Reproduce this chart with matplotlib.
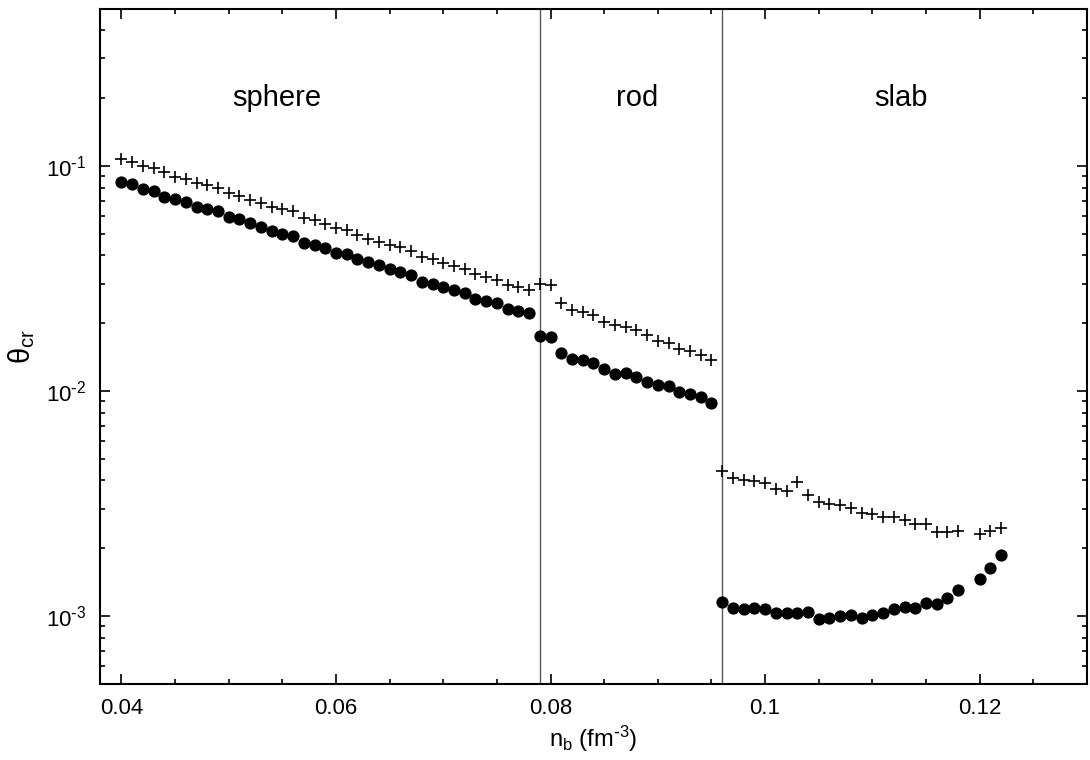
import matplotlib
matplotlib.use('Agg')
import matplotlib.pyplot as plt
import numpy as np
from matplotlib.ticker import LogLocator, FuncFormatter, MultipleLocator

plt.rcParams['font.family'] = ['Liberation Sans', 'DejaVu Sans']
plt.rcParams['mathtext.default'] = 'regular'
plt.rcParams['axes.unicode_minus'] = False

# baryon density n_b (fm^-3) for each pasta phase
nb_sphere = [0.040, 0.041, 0.042, 0.043, 0.044, 0.045, 0.046, 0.047, 0.048, 0.049,
             0.050, 0.051, 0.052, 0.053, 0.054, 0.055, 0.056, 0.057, 0.058, 0.059,
             0.060, 0.061, 0.062, 0.063, 0.064, 0.065, 0.066, 0.067, 0.068, 0.069,
             0.070, 0.071, 0.072, 0.073, 0.074, 0.075, 0.076, 0.077, 0.078]
nb_rod = [0.079, 0.080, 0.081, 0.082, 0.083, 0.084, 0.085, 0.086, 0.087, 0.088,
          0.089, 0.090, 0.091, 0.092, 0.093, 0.094, 0.095]
nb_slab = [0.096, 0.097, 0.098, 0.099, 0.100, 0.101, 0.102, 0.103, 0.104, 0.105,
           0.106, 0.107, 0.108, 0.109, 0.110, 0.111, 0.112, 0.113, 0.114, 0.115,
           0.116, 0.117, 0.118, 0.120, 0.121, 0.122]

# theta_cr, crosses (upper series)
cross_sphere = [0.1068, 0.1042, 0.0997, 0.0980, 0.0935, 0.0894, 0.0876, 0.0840, 0.0818, 0.0796,
                0.0756, 0.0733, 0.0704, 0.0685, 0.0657, 0.0640, 0.0627, 0.0586, 0.0572, 0.0551,
                0.0530, 0.0518, 0.0492, 0.0471, 0.0459, 0.0447, 0.0434, 0.0419, 0.0394, 0.0386,
                0.0371, 0.0359, 0.0348, 0.0330, 0.0321, 0.0310, 0.0296, 0.0290, 0.0280]
cross_rod = [0.0298, 0.0294, 0.0246, 0.0228, 0.0225, 0.0217, 0.0203, 0.0196, 0.0193, 0.0187,
             0.0177, 0.0167, 0.0163, 0.0154, 0.0151, 0.0144, 0.0137]
cross_slab = [0.00441, 0.00412, 0.00401, 0.00398, 0.00388, 0.00365, 0.00358, 0.00394, 0.00344, 0.00321,
              0.00314, 0.00310, 0.00302, 0.00287, 0.00285, 0.00275, 0.00274, 0.00268, 0.00257, 0.00257,
              0.00236, 0.00235, 0.00239, 0.00231, 0.00239, 0.00245]

# theta_cr, filled circles (lower series)
dot_sphere = [0.0849, 0.0829, 0.0786, 0.0774, 0.0728, 0.0709, 0.0690, 0.0657, 0.0642, 0.0627,
              0.0592, 0.0578, 0.0555, 0.0534, 0.0514, 0.0497, 0.0486, 0.0455, 0.0443, 0.0432,
              0.0411, 0.0405, 0.0386, 0.0373, 0.0362, 0.0348, 0.0337, 0.0327, 0.0306, 0.0300,
              0.0290, 0.0281, 0.0272, 0.0256, 0.0250, 0.0245, 0.0231, 0.0227, 0.0222]
dot_rod = [0.0175, 0.0174, 0.0147, 0.0138, 0.0137, 0.0133, 0.0125, 0.0119, 0.0120, 0.0115,
           0.0110, 0.0106, 0.0105, 0.00984, 0.00964, 0.00935, 0.00879]
dot_slab = [0.00115, 0.00109, 0.00107, 0.00109, 0.00107, 0.00103, 0.00103, 0.00103, 0.00104, 0.000970,
            0.000984, 0.000997, 0.00101, 0.000984, 0.00101, 0.00103, 0.00107, 0.00110, 0.00109, 0.00114,
            0.00113, 0.00120, 0.00130, 0.00146, 0.00164, 0.00187]

transitions = [0.079, 0.096]
phase_names = ['sphere', 'rod', 'slab']
phase_label_x = [0.0545, 0.0881, 0.1127]

nb = nb_sphere + nb_rod + nb_slab
cross = cross_sphere + cross_rod + cross_slab
dot = dot_sphere + dot_rod + dot_slab


def pow10(v, pos):
    e = int(round(np.log10(v)))
    if e < 0:
        return r'10$^{\text{-}%d}$' % (-e)
    return r'10$^{%d}$' % e


fig = plt.figure(figsize=(10.9, 7.6), dpi=100)
ax = fig.add_axes([0.0917, 0.1004, 0.9055, 0.8884])

for xt in transitions:
    ax.axvline(xt, color='0.35', lw=1.0, zorder=1)

ax.plot(nb, cross, linestyle='none', marker='+', markersize=8, mew=1.2, color='black', zorder=3)
ax.plot(nb, dot, linestyle='none', marker='o', markersize=7.8, color='black', zorder=3)

for name, xp in zip(phase_names, phase_label_x):
    ax.text(xp, 0.2, name, ha='center', va='center', fontsize=21)

ax.set_yscale('log')
ax.set_xlim(0.038, 0.13)
ax.set_ylim(5e-4, 0.5)

ax.xaxis.set_minor_locator(MultipleLocator(0.005))
ax.set_xticks([0.04, 0.06, 0.08, 0.1, 0.12])
ax.set_xticklabels(['0.04', '0.06', '0.08', '0.1', '0.12'])
ax.yaxis.set_major_locator(LogLocator(base=10))
ax.yaxis.set_minor_locator(LogLocator(base=10, subs=np.arange(2, 10)))
ax.yaxis.set_major_formatter(FuncFormatter(pow10))

ax.tick_params(which='both', direction='in', top=True, right=True, labelsize=16, width=1.2)
ax.tick_params(which='major', length=7, pad=10)
ax.tick_params(which='minor', length=3.6)
for sp in ax.spines.values():
    sp.set_linewidth(1.5)

ax.set_xlabel(r'n$_b$ (fm$^{\text{-}3}$)', fontsize=17, labelpad=4)
ax.set_ylabel('θ$_{cr}$', fontsize=21, labelpad=6)

fig.savefig('out.png', dpi=100)
